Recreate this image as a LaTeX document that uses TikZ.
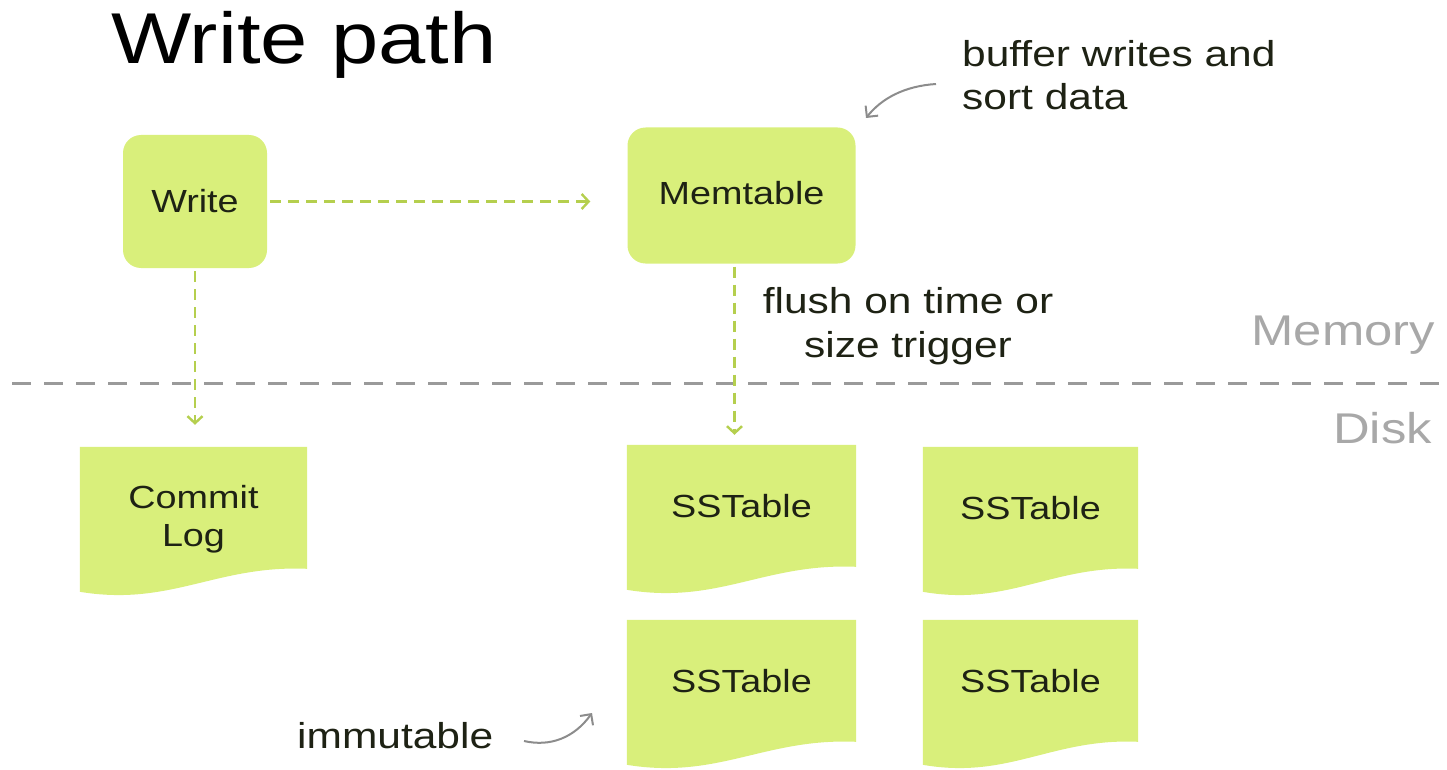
\documentclass[tikz,border=0pt]{standalone}
\usepackage{fontspec}
\setmainfont{Liberation Sans}[FakeStretch=1.18]
\usetikzlibrary{arrows.meta,calc}
\definecolor{boxfill}{HTML}{D9EF7B}
\definecolor{arrowgreen}{HTML}{B5CF4E}
\definecolor{divgray}{HTML}{9A9A9A}
\definecolor{labelgray}{HTML}{A8A8A8}
\definecolor{txt}{HTML}{1E2214}
\definecolor{handgray}{HTML}{8C8C8C}
\pgfdeclarelayer{bg}
\pgfsetlayers{bg,main}
\begin{document}
\begin{tikzpicture}[x=1pt,y=-1pt,
  boxnode/.style={fill=boxfill, rounded corners=18pt, inner sep=0pt, text=txt,
    font=\fontsize{32}{38}\selectfont},
  docnode/.style={inner sep=0pt, text=txt, align=center,
    font=\fontsize{32}{38}\selectfont, minimum height=122pt},
  garrow/.style={draw=arrowgreen, line width=2.6pt, dash pattern=on 11pt off 7pt,
    -{Straight Barb[length=7pt,width=15pt,line width=2.4pt]}},
  divider/.style={draw=divgray, line width=3pt, dash pattern=on 19pt off 13pt},
  note/.style={inner sep=0pt, text=txt, font=\fontsize{36}{43}\selectfont},
  region/.style={inner sep=0pt, text=labelgray, font=\fontsize{43}{50}\selectfont},
  harrow/.style={draw=handgray, line width=2pt,
    -{Straight Barb[length=8pt,width=16pt,line width=2pt]}}
]
\useasboundingbox (0,0) rectangle (1447,770);

% title
\node[anchor=base west, inner sep=0pt, font=\fontsize{72}{80}\selectfont] (title) at (111,64) {Write path};

% memory boxes
\node[boxnode, minimum width=144pt, minimum height=133pt] (write) at (195,201.5) {Write};
\node[boxnode, minimum width=228pt, minimum height=136pt] (mem) at (741.5,195.5) {\raisebox{5pt}{Memtable}};

% documents on disk
\node[docnode, minimum width=227pt, minimum height=144pt] (cl) at (193.5,519) {Commit\\Log};
\node[docnode, minimum width=229pt] (ss1) at (741.5,506) {SSTable};
\node[docnode, minimum width=215pt] (ss2) at (1030.5,508) {SSTable};
\node[docnode, minimum width=229pt] (ss3) at (741.5,681) {SSTable};
\node[docnode, minimum width=215pt] (ss4) at (1030.5,681) {SSTable};

\begin{pgfonlayer}{bg}
\foreach \n in {cl,ss1,ss2,ss3,ss4}{
  \fill[boxfill] (\n.north west) -- (\n.north east) -- ($(\n.north east)+(0,122)$)
    .. controls ($(\n.north east)!0.4!(\n.north west)+(0,118)$)
       and ($(\n.north east)!0.6!(\n.north west)+(0,160)$)
    .. ($(\n.north west)+(0,145)$) -- cycle;
}
\end{pgfonlayer}

% divider between memory and disk
\coordinate (divL) at (12,383);
\coordinate (divR) at (1440,383);
\draw[divider] (divL) -- (divR);
\node[region, anchor=base east] (memlbl) at (1435,345) {Memory};
\node[region, anchor=base east] (disklbl) at (1432,443) {Disk};

% flow arrows
\draw[garrow, shorten <=3pt, shorten >=37pt] (write.east) -- (write.east -| mem.west);
\draw[garrow, shorten <=3pt, shorten >=22pt] (write.south) -- (write.south |- cl.north);
\draw[garrow, shorten <=3pt, shorten >=10pt] ([xshift=-7pt]mem.south) -- ([xshift=-7pt]mem.south |- ss1.north);

% annotations
\node[note, anchor=base] (fl1) at (908,313) {flush on time or};
\node[note, anchor=base] (fl2) at (908,357) {size trigger};
\node[note, anchor=base west] (bw1) at (962,67) {buffer writes and};
\node[note, anchor=base west] (bw2) at (962,110) {sort data};
\node[note, anchor=base west] (imm) at (297,748) {immutable};

\coordinate (ba1) at (936,84);
\coordinate (ba2) at (866,118);
\draw[harrow] (ba1) .. controls (905,86) and (882,98) .. (ba2);
\coordinate (ia1) at (524,741);
\coordinate (ia2) at (592,713);
\draw[harrow] (ia1) .. controls (550,747) and (574,738) .. (ia2);
\end{tikzpicture}
\end{document}
